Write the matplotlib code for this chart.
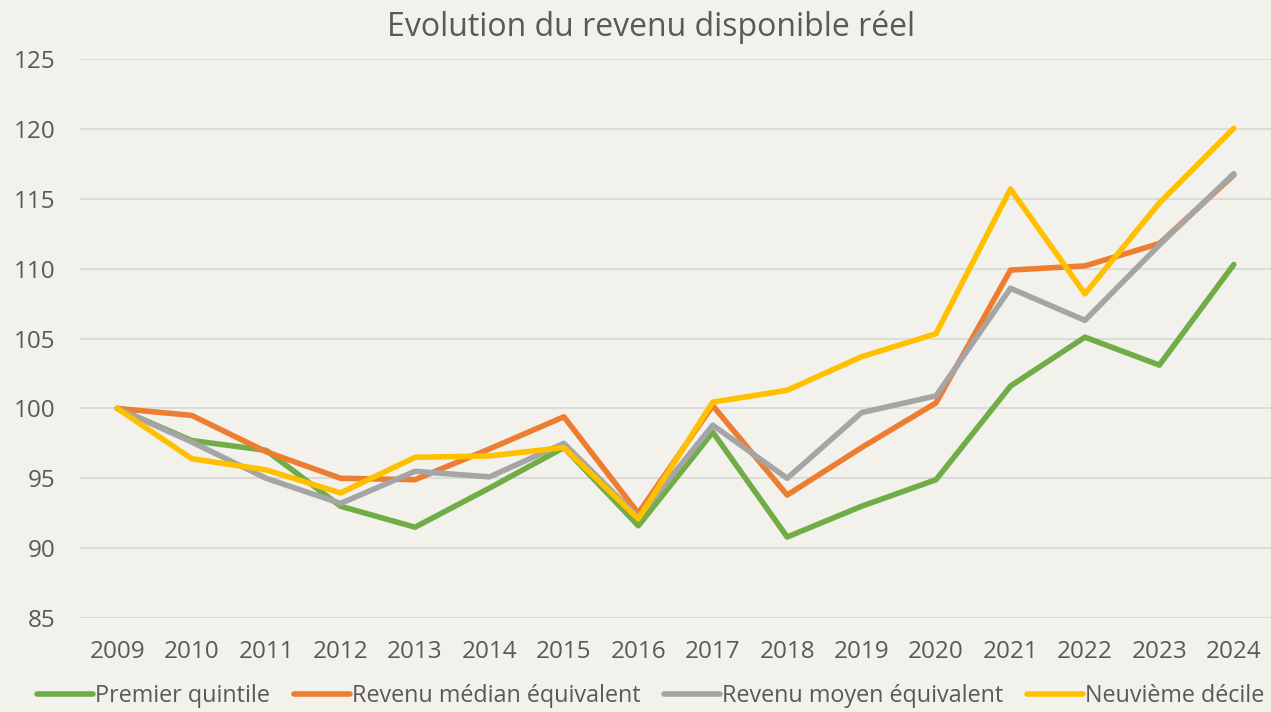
import matplotlib.pyplot as plt

years = [str(y) for y in range(2009, 2025)]

premier_quintile = [100, 97.7, 97.0, 93.0, 91.5, 94.3, 97.2, 91.6, 98.3, 90.8,
                    93.0, 94.9, 101.6, 105.1, 103.1, 110.3]
revenu_median = [100, 99.5, 96.9, 95.0, 94.9, 97.1, 99.4, 92.5, 100.2, 93.8,
                 97.2, 100.4, 109.9, 110.2, 111.8, 116.7]
revenu_moyen = [100, 97.6, 95.0, 93.2, 95.5, 95.1, 97.5, 92.2, 98.8, 95.0,
                99.7, 100.9, 108.6, 106.3, 111.7, 116.8]
neuvieme_decile = [100, 96.4, 95.6, 93.95, 96.5, 96.6, 97.2, 92.1, 100.45, 101.3,
                   103.7, 105.35, 115.7, 108.2, 114.7, 120.05]

series = [
    ("Premier quintile", premier_quintile, "#70AD47"),
    ("Revenu médian équivalent", revenu_median, "#ED7D31"),
    ("Revenu moyen équivalent", revenu_moyen, "#A5A5A5"),
    ("Neuvième décile", neuvieme_decile, "#FFC000"),
]

bg = "#F2F1EC"
txt = "#595959"

plt.rcParams["font.family"] = ["Open Sans", "DejaVu Sans"]

fig = plt.figure(figsize=(12.71, 7.12), dpi=100, facecolor=bg)
ax = fig.add_axes([0.063, 0.132, 0.937, 0.785], facecolor=bg)

x = list(range(len(years)))
for label, vals, col in series:
    ax.plot(x, vals, color=col, lw=4, label=label, solid_joinstyle="round",
            solid_capstyle="round")

ax.set_xlim(-0.5, len(years) - 0.5)
ax.set_ylim(85, 125)
ax.set_yticks(range(85, 126, 5))
ax.set_xticks(x)
ax.set_xticklabels(years)
ax.grid(axis="y", color="#D9D9D9", lw=1.3)
ax.set_axisbelow(True)
for s in ax.spines.values():
    s.set_visible(False)
ax.tick_params(length=0, labelsize=17.5, labelcolor=txt)
ax.tick_params(axis="y", pad=18)
ax.tick_params(axis="x", pad=16)

fig.text(0.512, 0.962, "Evolution du revenu disponible réel", ha="center", va="center",
         fontsize=23, color=txt)

fig.legend(loc="center", bbox_to_anchor=(0.512, 0.022), ncol=4, frameon=False,
           fontsize=16.8, handlelength=2.4, handletextpad=0.1, columnspacing=1.0,
           labelcolor=txt)

fig.savefig("out.png", dpi=100, facecolor=bg)
